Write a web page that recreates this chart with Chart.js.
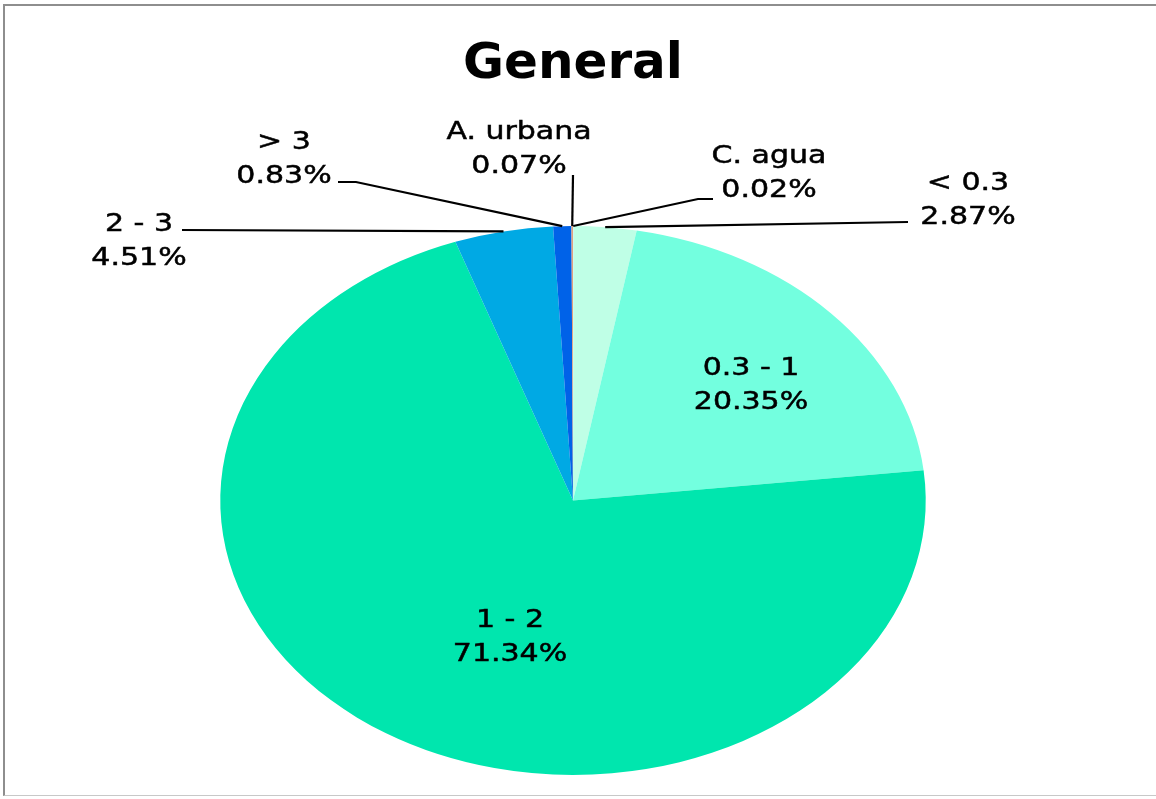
<!DOCTYPE html>
<html>
<head>
<meta charset="utf-8">
<script src="https://cdn.jsdelivr.net/npm/chart.js@4/dist/chart.umd.min.js"></script>
<style>
  html, body { margin: 0; padding: 0; background: #fff; }
  #wrap { position: relative; width: 1156px; height: 799px; overflow: hidden; }
  #frame {
    position: absolute; left: 3px; top: 4px; width: 1170px; height: 792px;
    border-left: 2px solid #8e8e8e; border-top: 2px solid #8e8e8e;
    border-bottom: 1px solid #c8c8c8; box-sizing: border-box;
  }
  #chart { position: absolute; left: 0; top: 0; }
</style>
</head>
<body>
<div id="wrap">
  <div id="frame"></div>
  <canvas id="chart" width="1156" height="799"></canvas>
</div>
<script>
'use strict';

// slices, clockwise from 12 o'clock
var categories = ['C. agua', '< 0.3', '0.3 - 1', '1 - 2', '2 - 3', '> 3', 'A. urbana'];
var shares = [0.02, 2.87, 20.35, 71.34, 4.51, 0.83, 0.07];
var sliceColors = ['#bcd8ff', '#bfffe6', '#73ffdf', '#00e6ae', '#00a9e4', '#0062e8', '#e2a07e'];

// horizontal stretch of the pie and of its labels
var stretchX = 1.285;
var textStretch = 1.2;

// label placement: text centre [x, y of first line], and leader bends
var labelPos = [[769, 156], [968, 183], [751, 368], [510, 620], [139, 224], [284, 142], [519, 132]];
var leaderPts = [
  [[698, 199], [713, 199]],
  [[908, 222]],
  null,
  null,
  [[182, 230]],
  [[356, 182], [338, 182]],
  [[573, 175]]
];

var ellipsePlugin = {
  id: 'ellipse',
  beforeDatasetsDraw: function(chart) {
    var arc = chart.getDatasetMeta(0).data[0];
    var ctx = chart.ctx;
    ctx.save();
    ctx.translate(arc.x, arc.y);
    ctx.scale(stretchX, 1);
    ctx.translate(-arc.x, -arc.y);
  },
  afterDatasetsDraw: function(chart) {
    chart.ctx.restore();
  }
};

var sliceLabels = {
  id: 'sliceLabels',
  afterDraw: function(chart) {
    var ctx = chart.ctx;
    var arcs = chart.getDatasetMeta(0).data;
    ctx.save();
    ctx.strokeStyle = '#000';
    ctx.lineWidth = 2.2;
    arcs.forEach(function(arc, i) {
      var pts = leaderPts[i];
      if (!pts) return;
      var mid = (arc.startAngle + arc.endAngle) / 2;
      var ax = arc.x + stretchX * arc.outerRadius * Math.cos(mid);
      var ay = arc.y + arc.outerRadius * Math.sin(mid);
      ctx.beginPath();
      ctx.moveTo(ax, ay);
      pts.forEach(function(p) { ctx.lineTo(p[0], p[1]); });
      ctx.stroke();
    });
    ctx.fillStyle = '#000';
    ctx.lineWidth = 0.5;
    ctx.font = '25px "DejaVu Sans"';
    ctx.textAlign = 'center';
    ctx.textBaseline = 'middle';
    categories.forEach(function(name, i) {
      var lines = [name, shares[i].toFixed(2) + '%'];
      lines.forEach(function(t, k) {
        ctx.save();
        ctx.translate(labelPos[i][0], labelPos[i][1] + k * 34);
        ctx.scale(textStretch, 1);
        ctx.fillText(t, 0, 0);
        ctx.strokeText(t, 0, 0);
        ctx.restore();
      });
    });
    ctx.restore();
  }
};

new Chart(document.getElementById('chart').getContext('2d'), {
  type: 'pie',
  data: {
    labels: categories,
    datasets: [{
      data: shares,
      backgroundColor: sliceColors,
      borderWidth: 0
    }]
  },
  options: {
    responsive: false,
    animation: false,
    devicePixelRatio: 1,
    layout: { padding: { top: 0, bottom: 24, left: 0, right: 10 } },
    plugins: {
      legend: { display: false },
      tooltip: { enabled: false },
      title: {
        display: true,
        text: 'General',
        color: '#000',
        font: { family: '"DejaVu Sans"', size: 50, weight: 'bold', lineHeight: 1.2 },
        padding: { top: 35, bottom: 131 }
      }
    }
  },
  plugins: [ellipsePlugin, sliceLabels]
});
</script>
</body>
</html>
